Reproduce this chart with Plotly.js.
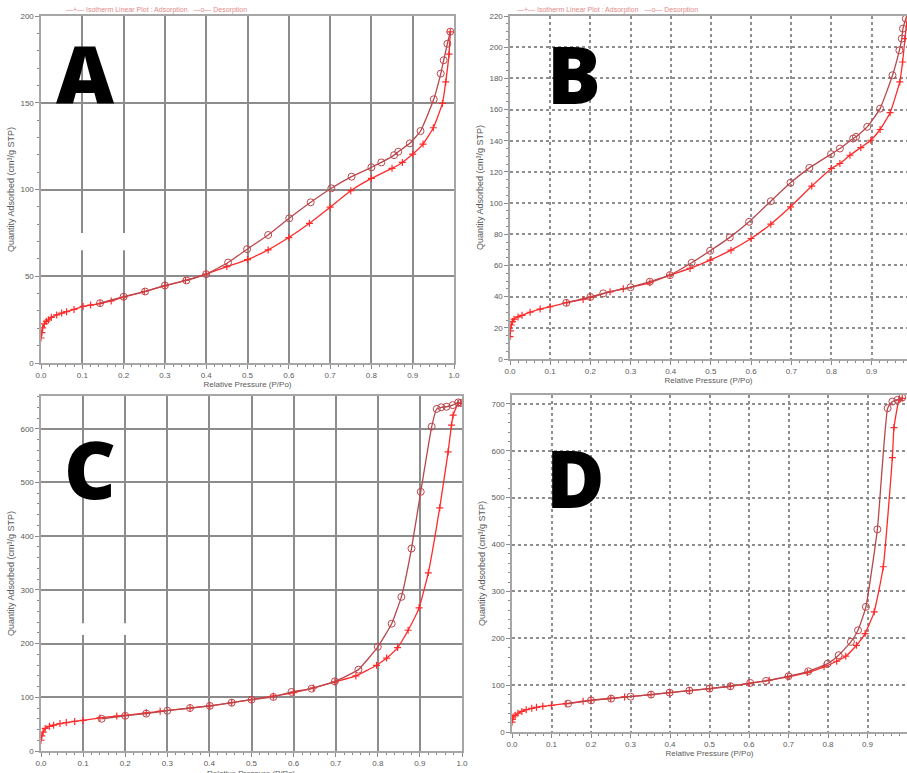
<!DOCTYPE html>
<html>
<head>
<meta charset="utf-8">
<script src="https://cdn.plot.ly/plotly-3.0.1.min.js"></script>
<style>html,body{margin:0;padding:0;background:#fff;}#chart{width:907px;height:773px;}</style>
</head>
<body>
<div id="chart"></div>
<script>
// ---------- Data ----------
const panelLabels = ['A', 'B', 'C', 'D'];
const xTitle = 'Relative Pressure (P/Po)';
const yTitle = 'Quantity Adsorbed (cm³/g STP)';
const headerText = '—+— Isotherm Linear Plot : Adsorption   —o— Desorption';

// Panel A
const A_ads_x = [0, 0.002, 0.004, 0.008, 0.013, 0.018, 0.025, 0.038, 0.05, 0.062, 0.08, 0.102, 0.12, 0.143, 0.17, 0.2, 0.25, 0.3, 0.35, 0.4, 0.45, 0.5, 0.55, 0.6, 0.65, 0.7, 0.75, 0.8, 0.85, 0.875, 0.9, 0.925, 0.95, 0.972, 0.98, 0.988, 0.991];
const A_ads_y = [14.4, 17.5, 20.2, 22.5, 24, 24.8, 26.3, 27.7, 28.8, 29.6, 30.9, 32.6, 33.4, 34.3, 35.8, 37.9, 41.2, 44.5, 47.6, 51.2, 55.6, 59.6, 65.2, 72.3, 80.5, 89.8, 99.3, 106.4, 112.2, 115.6, 120.4, 126.2, 135.6, 149.6, 162, 178, 190.8];
const A_des_x = [0.991, 0.984, 0.975, 0.968, 0.951, 0.919, 0.893, 0.865, 0.855, 0.824, 0.8, 0.752, 0.703, 0.653, 0.601, 0.55, 0.499, 0.453, 0.4, 0.352, 0.3, 0.252, 0.2, 0.143];
const A_des_y = [191, 184, 174.5, 166.8, 152, 133.7, 126.6, 121.8, 119.8, 115.6, 112.8, 107.4, 100.7, 92.6, 83.4, 73.8, 65.6, 57.9, 51.2, 47.6, 44.7, 41.2, 38.2, 34.5];

// Panel B
const B_ads_x = [0, 0.001, 0.003, 0.006, 0.01, 0.02, 0.03, 0.05, 0.075, 0.1, 0.141, 0.182, 0.2, 0.249, 0.282, 0.348, 0.398, 0.448, 0.498, 0.55, 0.6, 0.649, 0.698, 0.751, 0.8, 0.821, 0.846, 0.873, 0.898, 0.921, 0.946, 0.97, 0.977, 0.983, 0.99];
const B_ads_y = [14.3, 18, 21.8, 24, 25.5, 27, 28, 30, 32, 33.5, 36.2, 38.2, 39.5, 43.1, 45, 48.9, 53.8, 58.1, 63.4, 69.8, 77.3, 86.5, 97.6, 110.9, 122.2, 125.4, 130.7, 135.6, 140.3, 147.2, 158, 177.7, 190.5, 205.5, 222];
const B_des_x = [0.99, 0.985, 0.978, 0.975, 0.969, 0.952, 0.921, 0.889, 0.861, 0.854, 0.821, 0.799, 0.745, 0.698, 0.649, 0.595, 0.547, 0.498, 0.452, 0.398, 0.348, 0.3, 0.232, 0.2, 0.14];
const B_des_y = [222, 218.3, 211.9, 205.5, 198, 182, 160.6, 148.9, 142.5, 141.4, 135, 131.4, 122.6, 113, 101.2, 88, 78, 69.4, 61.7, 53.8, 49.6, 46, 42.1, 39.8, 36];

// Panel C
const C_ads_x = [0, 0.002, 0.005, 0.01, 0.02, 0.03, 0.045, 0.06, 0.08, 0.1, 0.14, 0.18, 0.2, 0.25, 0.283, 0.354, 0.401, 0.453, 0.5, 0.552, 0.6, 0.647, 0.698, 0.748, 0.797, 0.821, 0.847, 0.872, 0.898, 0.92, 0.947, 0.967, 0.975, 0.979, 0.991, 0.997];
const C_ads_y = [20, 28, 35, 42, 46, 48, 51, 53, 55, 57, 61.5, 65, 66.5, 71, 74, 80, 84, 90, 95.6, 102, 108.7, 117.4, 128.6, 139.8, 159.6, 173, 192.5, 224.8, 266.5, 331.7, 452.8, 557, 606.8, 625.5, 647, 648];
const C_des_x = [0.997, 0.991, 0.978, 0.963, 0.951, 0.94, 0.928, 0.902, 0.88, 0.856, 0.833, 0.8, 0.754, 0.698, 0.643, 0.595, 0.552, 0.5, 0.453, 0.401, 0.354, 0.3, 0.25, 0.2, 0.144];
const C_des_y = [648, 649, 644, 641, 640, 637, 604, 482.6, 377, 287, 237, 194, 151.5, 129.8, 116, 110, 100.6, 95.6, 90, 84, 80, 75, 69.6, 65.5, 60];

// Panel D
const D_ads_x = [0, 0.001, 0.003, 0.008, 0.015, 0.025, 0.036, 0.05, 0.062, 0.078, 0.1, 0.137, 0.18, 0.2, 0.25, 0.285, 0.352, 0.399, 0.449, 0.5, 0.553, 0.6, 0.651, 0.698, 0.748, 0.79, 0.822, 0.845, 0.872, 0.894, 0.917, 0.94, 0.963, 0.967, 0.98, 0.988];
const D_ads_y = [21, 27, 32, 35.6, 40, 44, 47.7, 50.5, 52.7, 54.8, 57, 60.5, 65.5, 67.7, 72, 74.8, 79.8, 84, 88.3, 92.6, 97.6, 103.3, 110.4, 117.5, 126.8, 139, 151, 161.7, 185, 210, 256.4, 352.6, 585.5, 649.6, 708.7, 712];
const D_des_x = [0.988, 0.976, 0.963, 0.951, 0.925, 0.896, 0.876, 0.858, 0.827, 0.799, 0.75, 0.7, 0.643, 0.603, 0.553, 0.5, 0.449, 0.399, 0.352, 0.3, 0.251, 0.2, 0.142];
const D_des_y = [713.7, 708.7, 705, 690.9, 432.3, 267, 217, 192.3, 163.8, 146, 129.6, 119, 109, 104.7, 97.6, 92.6, 88.3, 84, 79.8, 75.5, 71.2, 67.5, 60.5];

// ---------- Styling ----------
const adsColor = '#ff2a2a';
const desColor = '#b9474c';
const W = 907, H = 773;
const px = v => v / W;          // horizontal pixel -> paper
const py = v => 1 - v / H;      // vertical pixel -> paper

function adsTrace(x, y, xa, ya) {
  return {x: x, y: y, xaxis: xa, yaxis: ya, type: 'scatter', mode: 'lines+markers',
    line: {color: adsColor, width: 1.3, shape: 'spline', smoothing: 0.4},
    marker: {symbol: 'cross-thin-open', size: 5, line: {color: adsColor, width: 1.2}},
    cliponaxis: true, showlegend: false, hoverinfo: 'x+y'};
}
function desTrace(x, y, xa, ya) {
  return {x: x, y: y, xaxis: xa, yaxis: ya, type: 'scatter', mode: 'lines+markers',
    line: {color: desColor, width: 1.3, shape: 'spline', smoothing: 0.4},
    marker: {symbol: 'circle-open', size: 7, color: desColor, line: {color: desColor, width: 1}},
    cliponaxis: true, showlegend: false, hoverinfo: 'x+y'};
}

const fontFam = 'Liberation Sans, Arial, sans-serif';
const tickFont = {family: fontFam, size: 8, color: '#5a5a5a'};
function axis(domain, range, dtick, minor, dotted, mirror, anchor, isX) {
  const a = {
    domain: domain, range: range, dtick: dtick, tick0: 0, anchor: anchor,
    showgrid: true, gridcolor: dotted ? '#8f8f8f' : '#8c8c8c', gridwidth: 2,
    griddash: dotted ? 'dot' : 'solid',
    showline: true, linecolor: '#a6a6a6', linewidth: 1.6, mirror: mirror,
    ticks: 'outside', ticklen: 4, tickcolor: '#8a8a8a', tickwidth: 1,
    tickfont: tickFont, zeroline: false, fixedrange: true,
    minor: {dtick: minor, tick0: 0, ticks: 'outside', ticklen: 2.5, tickcolor: '#8a8a8a', showgrid: false}
  };
  if (isX) {
    a.tickformat = '.1f';
    a.title = {text: xTitle, font: {family: fontFam, size: 8, color: '#5a5a5a'}, standoff: 2};
  } else {
    a.title = {text: yTitle, font: {family: fontFam, size: 9, color: '#5a5a5a'}, standoff: 4};
  }
  return a;
}

const data = [
  adsTrace(A_ads_x, A_ads_y, 'x', 'y'), desTrace(A_des_x, A_des_y, 'x', 'y'),
  adsTrace(B_ads_x, B_ads_y, 'x2', 'y2'), desTrace(B_des_x, B_des_y, 'x2', 'y2'),
  adsTrace(C_ads_x, C_ads_y, 'x3', 'y3'), desTrace(C_des_x, C_des_y, 'x3', 'y3'),
  adsTrace(D_ads_x, D_ads_y, 'x4', 'y4'), desTrace(D_des_x, D_des_y, 'x4', 'y4')
];

function letter(t, x, y) {
  return {text: t, xref: 'paper', yref: 'paper', x: px(x), y: py(y), xanchor: 'center', yanchor: 'middle',
    showarrow: false, font: {family: 'Open Sans, Liberation Sans, sans-serif', size: 80, weight: 800, color: '#000'}};
}
function header(x, y) {
  return {text: headerText, xref: 'paper', yref: 'paper', x: px(x), y: py(y), xanchor: 'left', yanchor: 'middle',
    showarrow: false, opacity: 0.55, font: {family: fontFam, size: 7, color: '#d02020'}};
}

// Panel C's x-axis title sits at the very bottom edge (cut off in the reference), so draw it as an annotation
const xC = axis([px(41), px(462)], [0, 1], 0.1, 0.02, false, true, 'y3', true);
delete xC.title;
const xD = axis([px(512), 1], [0, 1], 0.1, 0.02, true, true, 'y4', true);
const xB = axis([px(510), 1], [0, 0.988], 0.1, 0.02, true, true, 'y2', true);

const layout = {
  width: W, height: H, margin: {l: 0, r: 0, t: 0, b: 0},
  paper_bgcolor: '#fff', plot_bgcolor: '#fff', showlegend: false,
  xaxis:  axis([px(41), px(454)], [0, 1], 0.1, 0.02, false, true, 'y', true),
  yaxis:  axis([py(363), py(16)], [0, 200], 50, 10, false, true, 'x', false),
  xaxis2: xB,
  yaxis2: axis([py(359), py(16)], [0, 220], 20, 5, true, false, 'x2', false),
  xaxis3: xC,
  yaxis3: axis([py(751), py(396)], [0, 661], 100, 20, false, true, 'x3', false),
  xaxis4: xD,
  yaxis4: axis([py(732), py(395)], [0, 719], 100, 20, true, false, 'x4', false),
  shapes: [
    {type: 'rect', xref: 'x', yref: 'y', x0: 0.09, x1: 0.21, y0: 65, y1: 75, fillcolor: '#fff', line: {width: 0}, layer: 'between'},
    {type: 'rect', xref: 'x3', yref: 'y3', x0: 0.09, x1: 0.21, y0: 216, y1: 238, fillcolor: '#fff', line: {width: 0}, layer: 'between'}
  ],
  annotations: [
    letter(panelLabels[0], 85, 72),
    letter(panelLabels[1], 574, 72),
    letter(panelLabels[2], 90, 468),
    letter(panelLabels[3], 575, 476),
    header(64, 10),
    header(515, 10),
    {text: xTitle, xref: 'paper', yref: 'paper', x: px(251), y: py(767), xanchor: 'center', yanchor: 'top',
     showarrow: false, font: {family: fontFam, size: 8, color: '#5a5a5a'}}
  ]
};

Plotly.newPlot('chart', data, layout, {displayModeBar: false, staticPlot: true});
</script>
</body>
</html>
